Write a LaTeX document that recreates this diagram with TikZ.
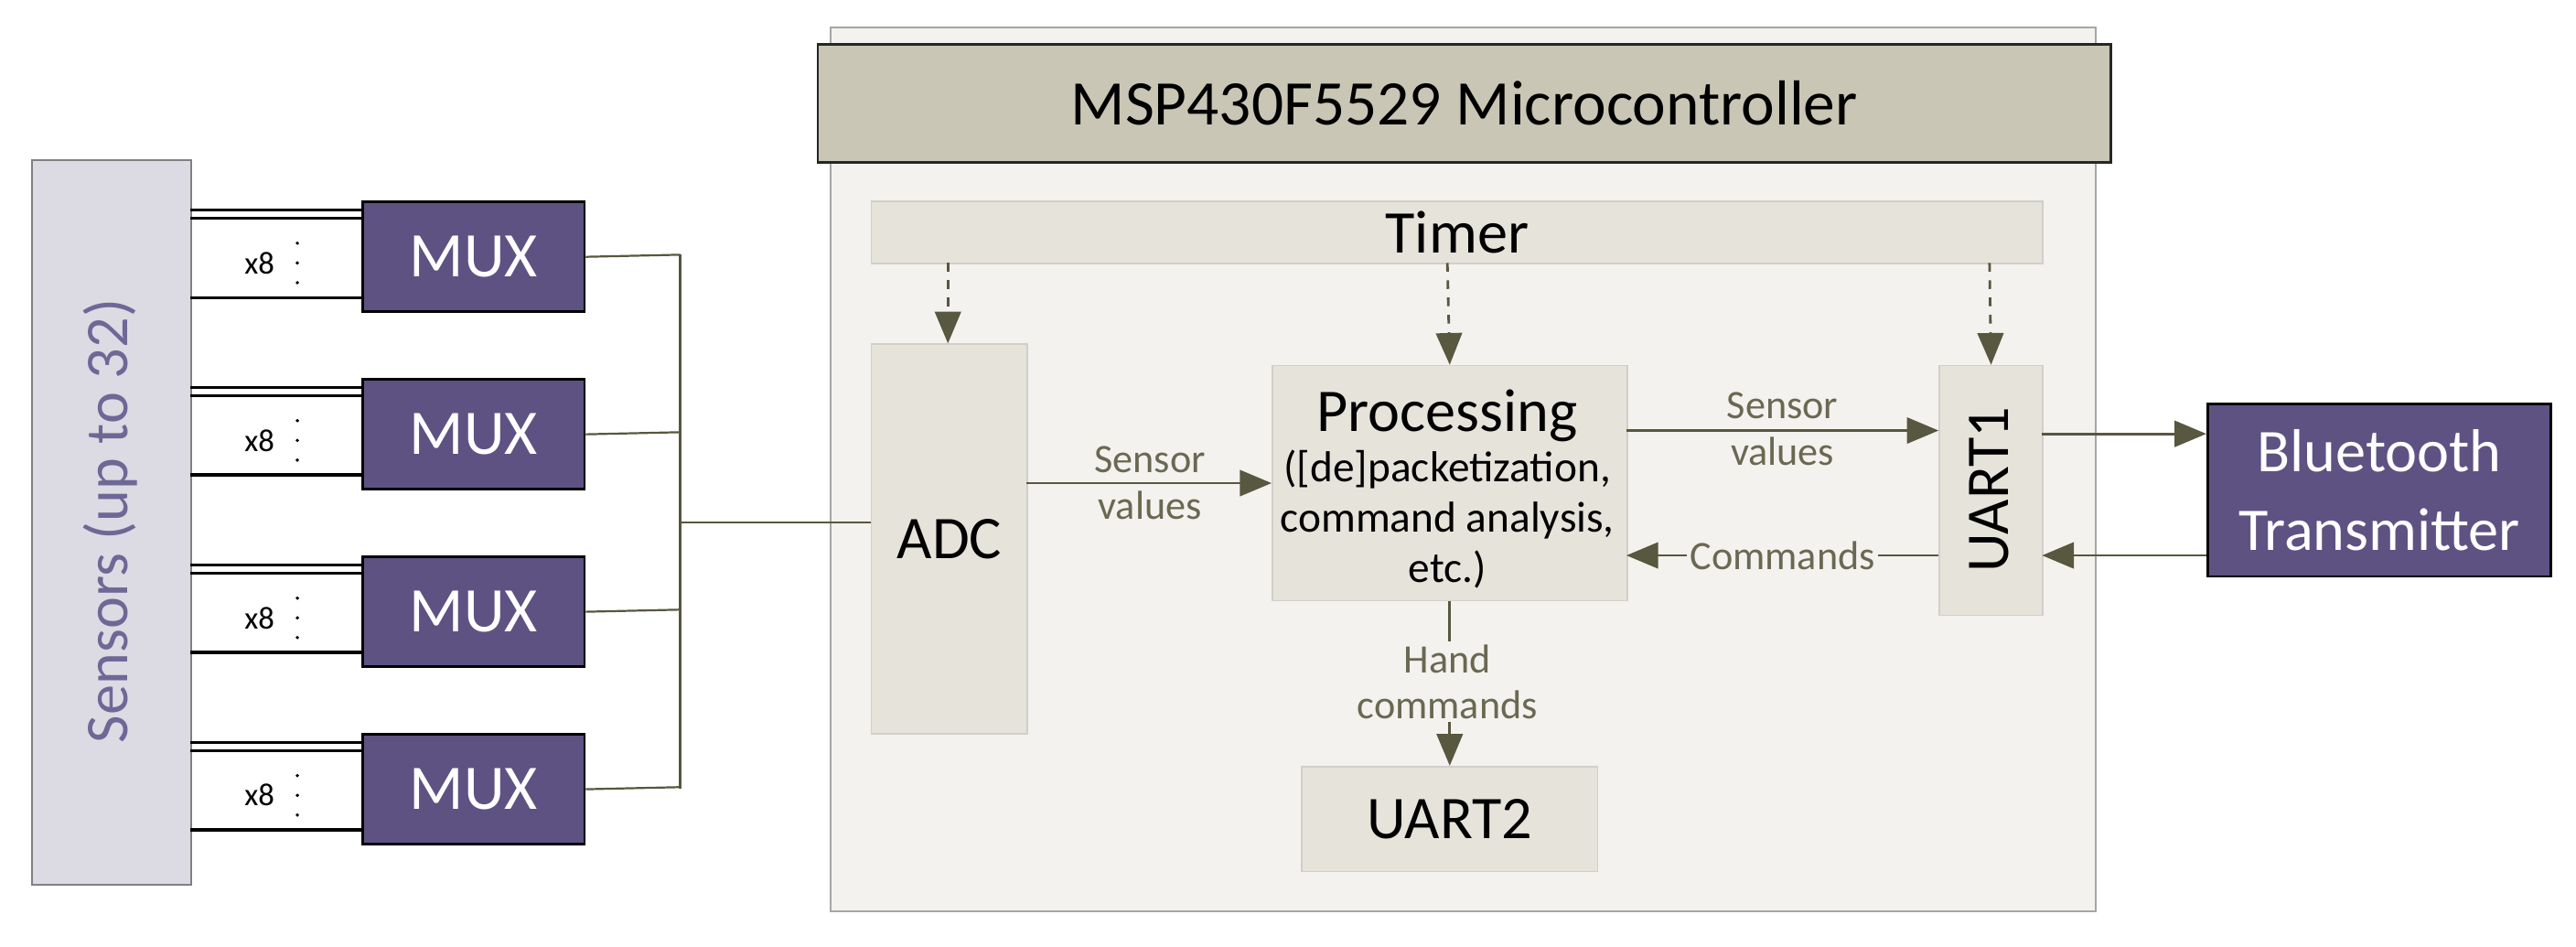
\documentclass[tikz,border=0pt]{standalone}
\usepackage{fontspec}
\setmainfont{Carlito}
\usetikzlibrary{arrows.meta}
\definecolor{purp}{HTML}{5E5283}
\definecolor{sens}{HTML}{DCDAE3}
\definecolor{sensT}{HTML}{6E6896}
\definecolor{mcu}{HTML}{F3F2EE}
\definecolor{title}{HTML}{C9C6B5}
\definecolor{blk}{HTML}{E6E3DB}
\definecolor{arr}{HTML}{58573F}
\definecolor{lbl}{HTML}{6A6852}
\begin{document}
\begin{tikzpicture}[x=0.02cm,y=-0.02cm,
  box/.style={draw=#1,line width=0.6pt,inner sep=0},
  mux/.style={fill=purp,draw=black,line width=0.9pt,text=white,font=\fontsize{22}{22}\selectfont},
  gblk/.style={fill=blk,draw=blk!80!gray,line width=0.5pt},
  con/.style={draw=arr,line width=0.9pt},
  ar/.style={con,-{Triangle[length=11pt,width=9pt]}},
  dar/.style={ar,dashed},
  lab/.style={text=lbl,font=\fontsize{14}{16}\selectfont,align=center},
  sl/.style={draw=black,line width=1pt}]
\useasboundingbox (0,0) rectangle (1568,576);
% sensors
\node[box=gray,fill=sens,minimum width=97*0.02cm,minimum height=441*0.02cm,anchor=north west] (sens) at (19,97) {};
\node[rotate=90,text=sensT,font=\fontsize{21}{21}\selectfont] at (67,317) {Sensors (up to 32)};
% MUXes
\foreach \i/\y in {1/122,2/230,3/338,4/446}{
  \node[mux,minimum width=135*0.02cm,minimum height=67*0.02cm,anchor=north west] (m\i) at (220,\y) {MUX};
  \draw[sl] (116,\y+6) -- (220,\y+6);
  \draw[sl] (116,\y+11) -- (220,\y+11);
  \draw[sl] (116,\y+59) -- (220,\y+59);
  \node[font=\fontsize{11}{11}\selectfont] at (158,\y+38) {x8};
  \foreach \d in {26,38,50} \fill (181,\y+\d) circle (1.1);
  \draw[con,line width=0.7pt] (m\i.east) -- (414,\y+33);
}
\draw[con,line width=0.7pt] (414,155) -- (414,480);
% MCU
\node[box=gray!70,fill=mcu,minimum width=770*0.02cm,minimum height=538*0.02cm,anchor=north west] (mcu) at (505,16) {};
\node[fill=title,draw=black!85,line width=0.9pt,minimum width=787*0.02cm,minimum height=72*0.02cm,anchor=north west,font=\fontsize{22}{22}\selectfont] (ttl) at (497,26) {MSP430F5529 Microcontroller};
\node[gblk,minimum width=713*0.02cm,minimum height=38*0.02cm,anchor=north west,font=\fontsize{21}{21}\selectfont] (timer) at (530,122) {Timer};
\node[gblk,minimum width=95*0.02cm,minimum height=237*0.02cm,anchor=north west,font=\fontsize{21}{21}\selectfont] (adc) at (530,209) {ADC};
\node[gblk,minimum width=216*0.02cm,minimum height=143*0.02cm,anchor=north west] (proc) at (774,222) {};
\node[font=\fontsize{21}{21}\selectfont] at (881,253) {Processing};
\node[font=\fontsize{15}{17.5}\selectfont,align=center] at (881,316) {([de]packetization,\\command analysis,\\etc.)};
\node[gblk,minimum width=63*0.02cm,minimum height=152*0.02cm,anchor=north west] (u1) at (1180,222) {};
\node[rotate=90,font=\fontsize{21}{21}\selectfont] at (1211,298) {UART1};
\node[gblk,minimum width=180*0.02cm,minimum height=64*0.02cm,anchor=north west,font=\fontsize{21}{21}\selectfont] (u2) at (792,466) {UART2};
\node[mux,minimum width=209*0.02cm,minimum height=105*0.02cm,anchor=north west,align=center,font=\fontsize{21}{27}\selectfont] (bt) at (1343,245) {Bluetooth\\Transmitter};
% connectors
\draw[con,line width=0.7pt] (414,318) -- (adc.west |- 0,318);
\draw[dar] (577,160) -- (577,209);
\draw[dar] (881,160) -- (proc.north);
\draw[dar] (1211,160) -- (u1.north);
\draw[ar] (625,294) -- (774,294);
\node[lab] at (700,294) {Sensor\\values};
\draw[ar] (990,262) -- (1180,262);
\node[lab] at (1085,261) {Sensor\\values};
\draw[ar] (1180,338) -- (990,338);
\node[lab,fill=mcu,inner sep=1pt] at (1085,338) {Commands};
\draw[ar] (1243,264) -- (1343,264);
\draw[ar] (1343,338) -- (1243,338);
\draw[ar] (proc.south) -- (u2.north);
\node[lab,fill=mcu,inner sep=1pt] at (881,415) {Hand\\commands};
\end{tikzpicture}
\end{document}
